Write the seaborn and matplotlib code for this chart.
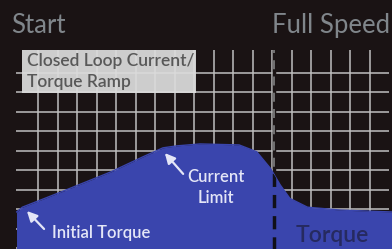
#!/usr/bin/env python3
"""
Closed loop current / torque ramp sketch: blue torque area over a white grid,
from start to full speed.
"""

import numpy as np
import pandas as pd
import matplotlib
matplotlib.use("Agg")
import matplotlib.pyplot as plt
from matplotlib.patches import Rectangle
import seaborn as sns

sns.set_theme(style="white")
plt.rcParams['font.family'] = ['Lato', 'DejaVu Sans']

# Torque envelope, in grid cells (x = speed, y = torque)
speed = [-1.1, -0.8, 1.1, 3.7, 5.4, 6.4, 7.1, 8.3, 10.3, 11.2, 11.9, 12.4, 12.9, 13.8, 15.5, 18.2]
torque = [1.85, 2.1, 2.85, 3.9, 4.7, 5.15, 5.25, 5.35, 5.3, 4.95, 4.1, 3.25, 2.55, 2.1, 1.95, 1.85]

grid_x = list(range(0, 18))   # vertical grid lines
grid_y = list(range(0, 10))   # horizontal grid lines
full_speed = 12.1

BG = "#1a1314"
BLUE = "#3a45ad"
GRID = "#bfbfbf"

W, H = 392, 249


def fx(px):
    return px / W


def fy(py):
    return 1 - py / H


fig = plt.figure(figsize=(W / 100, H / 100), dpi=100, facecolor=BG)
ax = fig.add_axes([0, 0, 1, 1])
ax.set_facecolor(BG)
ax.set_xlim(-1.946, 18.13)
ax.set_ylim(-0.05, 12.75)
ax.axis("off")

# grid
ax.vlines(grid_x, -0.05, 10.18, color=GRID, lw=1.1, zorder=1)
ax.hlines(grid_y, -1.13, 17.97, color=GRID, lw=1.1, zorder=1)
ax.vlines([full_speed], 0.0, 10.18, color=BG, lw=2.5, zorder=1.5)
ax.vlines([full_speed], 0.0, 10.18, color="#7a7a7a", lw=1.3,
          linestyles=(0, (5, 4)), zorder=1.6)

# torque area
df = pd.DataFrame({"speed": speed, "torque": torque})
sns.lineplot(data=df, x="speed", y="torque", ax=ax, color=BLUE, lw=1, sort=False, zorder=3)
poly = ax.fill_between(df["speed"], -0.1, df["torque"], color=BLUE, lw=0, zorder=3)

dash = ax.vlines([full_speed], -0.1, 10.18, color="#101018", lw=2.5,
                 linestyles=(0, (3.8, 2.3)), zorder=4)
dash.set_clip_path(poly.get_paths()[0], transform=ax.transData)

# label box
fig.patches.append(Rectangle((fx(22), fy(93)), fx(196) - fx(22), fy(50) - fy(93),
                             transform=fig.transFigure, facecolor="#dcdcdc",
                             alpha=0.93, edgecolor="none", zorder=5))
for line, base in [("Closed Loop Current/", 66), ("Torque Ramp", 87)]:
    fig.text(fx(27), fy(base), line, fontsize=12.5, fontweight="semibold",
             color="#585858", ha="left", va="baseline", zorder=6)

# headings
fig.text(fx(11), fy(33), "Start", fontsize=18.5, color="#80868b", ha="left", va="baseline")
fig.text(fx(390), fy(33), "Full Speed", fontsize=18.5, color="#80868b", ha="right", va="baseline")

# annotations
light = "#e4e6f7"
ax.annotate("", xy=(fx(25), fy(209)), xytext=(fx(46), fy(231)),
            xycoords="figure fraction", textcoords="figure fraction",
            arrowprops=dict(arrowstyle="-|>,head_length=0.5,head_width=0.25",
                            color=light, lw=1.6), zorder=7)
fig.text(fx(52), fy(238), "Initial Torque", fontsize=12, fontweight="semibold",
         color=light, ha="left", va="baseline", zorder=7)

ax.annotate("", xy=(fx(163), fy(151)), xytext=(fx(185), fy(176)),
            xycoords="figure fraction", textcoords="figure fraction",
            arrowprops=dict(arrowstyle="-|>,head_length=0.5,head_width=0.25",
                            color=light, lw=1.6), zorder=7)
for line, base in [("Current", 182), ("Limit", 203)]:
    fig.text(fx(216), fy(base), line, fontsize=12, fontweight="semibold",
             color=light, ha="center", va="baseline", zorder=7)

fig.text(fx(296), fy(242), "Torque", fontsize=16.5, fontweight="semibold",
         color="#262a60", ha="left", va="baseline", zorder=7)

fig.savefig("out.png", dpi=100, facecolor=BG)
plt.close(fig)
